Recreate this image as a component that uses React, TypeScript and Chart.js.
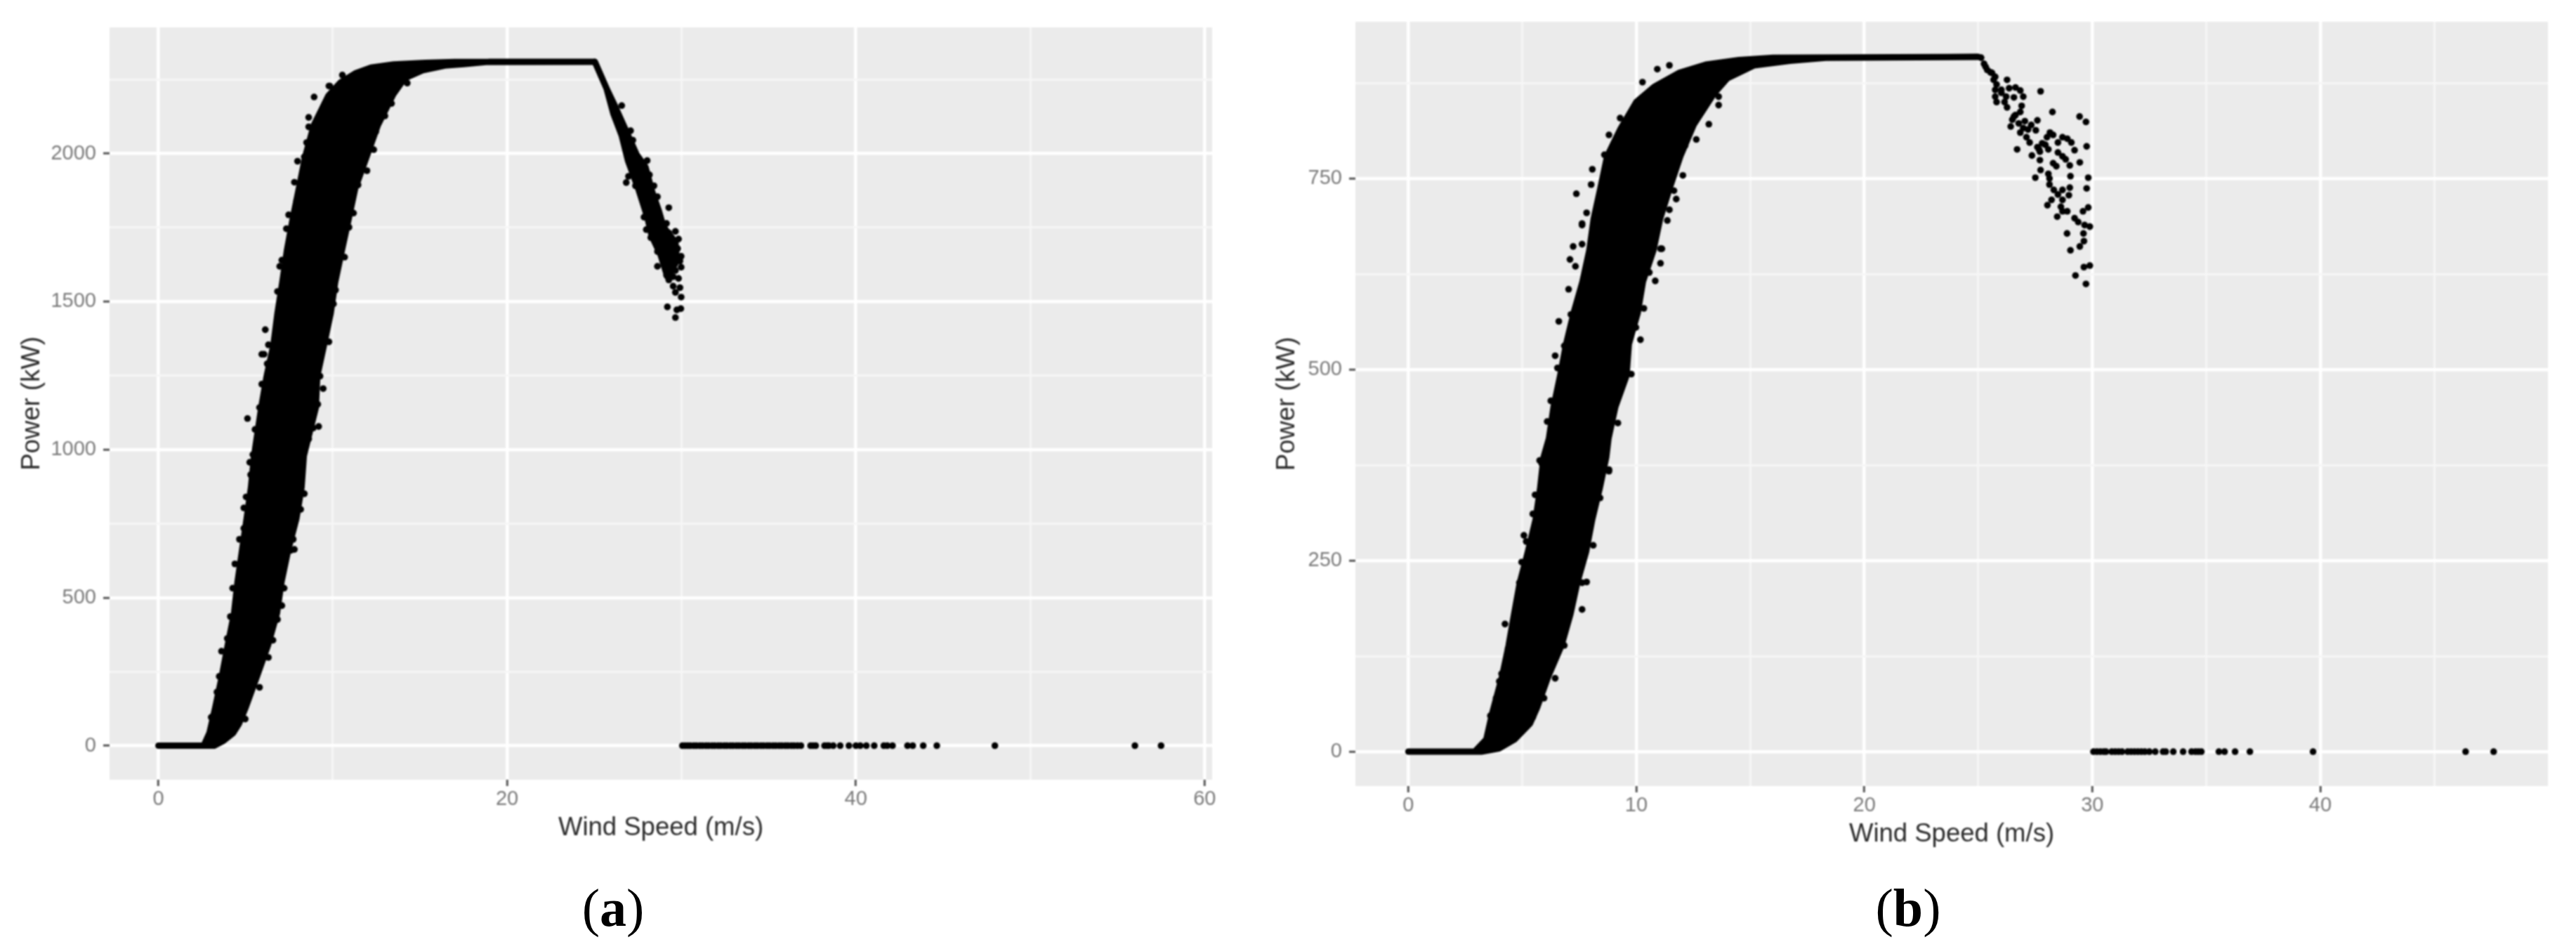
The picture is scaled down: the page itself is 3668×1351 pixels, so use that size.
import React, { useEffect, useRef } from "react";
import { Chart, registerables } from "chart.js";

Chart.register(...registerables);

type P = { x: number; y: number };
const pts = (rows: number[][]): P[] => rows.map(([x, y]) => ({ x, y }));

// ---- Panel (a) ----
const bandLeftA = [
  [0, 0], [2.6, 0], [2.93, 43], [3.26, 128], [3.64, 234], [3.98, 340], [4.34, 447], [4.54, 553], [4.8, 660],
  [5.06, 766], [5.31, 872], [5.49, 979], [5.9, 1142], [6.21, 1248], [6.6, 1354], [6.83, 1460], [7.11, 1566],
  [7.37, 1672], [7.7, 1778], [8.06, 1883], [8.42, 1989], [8.91, 2095], [9.75, 2195], [10.45, 2240], [11.34, 2272],
  [12.2, 2290], [13.5, 2301], [15.3, 2306], [17, 2309], [25.0, 2310],
];
const bandRightA = [
  [19, 2310], [17.5, 2302], [16.43, 2297], [15.14, 2281], [14.12, 2254], [13.48, 2201], [12.58, 2095], [11.94, 1989],
  [11.29, 1883], [10.91, 1778], [10.52, 1672], [10.14, 1566], [9.88, 1460], [9.5, 1354], [9.11, 1248], [9.03, 1142],
  [8.34, 979], [8.21, 872], [7.91, 766], [7.44, 660], [7.06, 553], [6.8, 447], [6.29, 340], [5.65, 234], [5.0, 128],
  [4.62, 74], [4.29, 43], [3.72, 16], [3.2, 0], [0, 0],
];
const tailA = [
  [25.03, 2310], [25.7, 2220], [26.13, 2167], [26.78, 2082], [27.42, 1997], [27.93, 1955], [28.32, 1870], [28.7, 1806],
  [28.96, 1753], [29.65, 1700], [29.73, 1637], [29.19, 1584], [28.8, 1658], [28.29, 1722], [28.04, 1785], [27.52, 1881],
  [26.93, 1976], [26.57, 2061], [26.09, 2135], [25.7, 2220], [25.03, 2310],
];
const dotsA = [
  [26.96, 1923], [28.62, 1619], [29.19, 1482], [29.65, 1446], [29.73, 1472], [29.96, 1476], [29.98, 1515], [29.65, 1531],
  [29.91, 1547], [29.83, 1578], [29.27, 1573], [29.52, 1552], [29.14, 1589], [29.98, 1616], [29.98, 1653], [29.83, 1711],
  [29.65, 1737], [29.27, 1817], [28.24, 1716], [27.98, 1743], [28.62, 1669], [28.88, 1658], [29.39, 1669], [29.52, 1637],
  [29.06, 1616], [29.65, 1605], [28.96, 1722], [29.27, 1732], [29.78, 1679], [29.91, 1637], [28.5, 1764], [29.14, 1764],
  [28.75, 1790], [28.8, 1700], [29.14, 1642], [29.52, 1584], [28.03, 1976], [28.16, 1928], [28.42, 1891], [28.62, 1854],
  [26.57, 2162], [27.08, 2077], [27.21, 2045], [26.83, 1902], [27.36, 1891], [27.85, 1785],
  [8.93, 2191], [7.98, 1974], [7.8, 1903], [6.13, 1405], [5.11, 1105], [5.24, 957], [9.45, 1206], [9.19, 1078],
  [12.35, 2013], [4.39, 614], [7.8, 663], [6.06, 1322], [7.34, 1746], [8.62, 2090], [9.78, 2228],
];
const edgeDotsA = [
  [9.83, 2228], [10.55, 2265], [9.45, 2148], [8.62, 2122], [8.88, 2064], [8.5, 2037], [8.37, 1989], [7.93, 1841], [7.47, 1793],
  [7.08, 1640], [6.96, 1619], [6.83, 1534], [6.96, 1460], [6.31, 1354], [5.93, 1322], [6.24, 1290], [5.93, 1221], [5.8, 1142],
  [5.54, 1068], [5.42, 983], [14.27, 2238], [13.37, 2169], [12.99, 2127], [12.47, 2074], [11.96, 1942], [11.45, 1894],
  [11.19, 1799], [10.93, 1751], [10.68, 1650], [10.16, 1539], [10.04, 1492], [9.78, 1364], [9.27, 1248], [9.14, 1153],
  [8.88, 1073], [8.62, 1036], [4.26, 532], [4.13, 436], [3.95, 362], [3.62, 319], [3.49, 234], [3.36, 181], [3.03, 96],
  [4.9, 803], [4.9, 734], [4.65, 697], [5.03, 840], [5.29, 915], [8.37, 851], [8.16, 798], [7.73, 697], [7.6, 660], [7.21, 532],
  [7.08, 473], [6.83, 426], [6.57, 356], [6.31, 298], [5.8, 197], [4.98, 90],
];
const zeroSpeedsA = [
  30.05, 30.2, 30.35, 30.5, 30.7, 30.85, 31.05, 31.2, 31.4, 31.55, 31.75, 31.9, 32.1, 32.25, 32.45, 32.6, 32.8, 32.95, 33.15,
  33.3, 33.5, 33.65, 33.85, 34.0, 34.2, 34.35, 34.55, 34.7, 34.9, 35.05, 35.25, 35.4, 35.6, 35.75, 35.95, 36.1, 36.3, 36.45,
  36.65, 36.85, 37.4, 37.55, 37.7, 38.2, 38.35, 38.45, 38.7, 39.1, 39.6, 40.0, 40.25, 40.6, 41.05, 41.6, 41.8, 42.1, 42.96,
  43.26, 43.86, 44.64, 47.97, 56.0, 57.5,
];
const xTicksA = [0, 10, 20, 30, 40, 50, 60];
const xLabelsA = [0, 20, 40, 60];
const yTicksA = [0, 250, 500, 750, 1000, 1250, 1500, 1750, 2000, 2250];
const yLabelsA = [0, 500, 1000, 1500, 2000];

// ---- Panel (b) ----
const bandLeftB = [
  [0, 0], [2.91, 0], [3.42, 16], [3.67, 49], [4.11, 98], [4.4, 139], [4.64, 180], [4.89, 221], [5.25, 262], [5.58, 303],
  [5.78, 344], [5.93, 385], [6.17, 410], [6.37, 451], [6.66, 492], [6.92, 533], [7.25, 574], [7.64, 615], [7.94, 656],
  [8.13, 697], [8.43, 738], [8.72, 779], [9.31, 815], [10.0, 850], [10.79, 870], [11.87, 888], [13.05, 899], [14.5, 905],
  [16, 908], [25.0, 909],
];
const bandRightB = [
  [18.4, 908], [16.74, 904], [15.17, 898], [13.99, 881], [13.4, 861], [12.51, 820], [11.93, 779], [11.47, 738], [11.04, 697],
  [10.75, 656], [10.29, 615], [10.06, 574], [9.67, 533], [9.57, 492], [9.08, 451], [8.78, 410], [8.68, 385], [8.39, 344],
  [8.06, 303], [7.8, 262], [7.41, 221], [7.11, 180], [6.72, 139], [6.13, 98], [5.64, 57], [5.34, 37], [4.66, 16], [3.97, 4],
  [3.2, 0], [0, 0],
];
const dotsB = [
  [25.12, 908], [25.25, 900], [25.39, 892], [25.6, 888], [25.74, 883], [25.53, 889], [25.32, 896], [25.67, 879], [25.8, 873],
  [26.26, 879], [27.73, 864], [25.74, 866], [26.01, 866], [26.35, 868], [26.63, 869], [26.84, 865], [26.97, 857], [26.56, 856],
  [26.22, 857], [26.01, 862], [25.74, 857], [25.8, 850], [26.15, 850], [26.26, 843], [28.25, 837], [29.44, 831], [29.72, 824],
  [26.9, 845], [26.84, 837], [26.63, 833], [26.49, 827], [26.42, 818], [26.77, 822], [27.04, 825], [27.32, 820], [27.52, 813],
  [27.59, 826], [26.97, 816], [26.84, 810], [27.11, 804], [27.25, 797], [26.7, 788], [26.56, 831], [27.18, 814], [28.14, 810],
  [28.28, 807], [28.01, 804], [27.8, 796], [27.66, 788], [27.59, 791], [27.94, 794], [28.07, 788], [27.7, 785], [27.35, 780],
  [27.7, 774], [28.69, 804], [28.9, 802], [29.08, 797], [28.49, 797], [29.22, 787], [29.75, 792], [28.49, 784], [28.69, 779],
  [28.83, 775], [29.01, 767], [29.45, 771], [28.28, 770], [28.42, 766], [27.73, 761], [28.07, 756], [28.12, 750], [27.5, 751],
  [29.04, 753], [29.82, 751], [28.12, 742], [28.31, 735], [29.75, 737], [29.01, 738], [28.69, 735], [28.49, 729], [28.97, 728],
  [28.69, 722], [28.21, 722], [28.03, 715], [28.62, 713], [28.69, 707], [28.9, 707], [28.46, 700], [29.59, 707], [29.82, 712],
  [29.22, 698], [29.38, 693], [29.66, 689], [29.89, 687], [28.89, 678], [29.61, 678], [29.63, 668], [29.45, 661], [29.04, 656],
  [29.63, 634], [29.89, 636], [29.26, 623], [29.72, 612],
  [7.37, 730], [8.07, 762], [8.02, 742], [7.09, 644], [7.23, 661], [6.6, 563], [6.44, 518], [6.54, 502], [10.83, 616],
  [13.18, 821], [13.61, 846], [10.27, 876], [10.92, 893], [11.45, 898], [4.24, 167], [5.07, 283], [7.82, 222], [3.99, 92],
  [7.62, 691], [11.06, 658], [10.18, 539],
];
const edgeDotsB = [
  [9.29, 829], [8.8, 807], [8.6, 781], [7.82, 705], [7.62, 689], [7.62, 664], [7.33, 635], [7.03, 605], [7.13, 572], [6.84, 531],
  [6.25, 459], [6.09, 432], [5.76, 381], [13.61, 857], [12.63, 801], [12.14, 793], [12.04, 754], [11.65, 734], [11.75, 723],
  [11.45, 709], [11.36, 695], [11.12, 658], [11.06, 639], [10.57, 627], [10.33, 580], [9.98, 555], [9.78, 494], [9.19, 430],
  [8.8, 369], [5.85, 377], [5.56, 336], [5.46, 311], [5.17, 275], [4.97, 248], [4.87, 221], [4.77, 193], [4.38, 135], [4.09, 102],
  [3.85, 70], [3.6, 47], [8.8, 367], [8.41, 332], [8.11, 270], [7.62, 221], [7.62, 186], [6.84, 139], [6.44, 96], [5.95, 70],
  [5.46, 45],
];
const zeroSpeedsB = [
  30.05, 30.2, 30.35, 30.5, 30.6, 30.85, 31.0, 31.15, 31.3, 31.55, 31.7, 31.85, 32.0, 32.15, 32.3, 32.5, 32.76, 33.1, 33.22,
  33.55, 33.98, 34.35, 34.52, 34.65, 34.78, 35.55, 35.8, 36.26, 36.91, 39.68, 46.37, 47.6,
];
const xTicksB = [0, 5, 10, 15, 20, 25, 30, 35, 40, 45];
const xLabelsB = [0, 10, 20, 30, 40];
const yTicksB = [0, 125, 250, 375, 500, 625, 750, 875];
const yLabelsB = [0, 250, 500, 750];

const xTitle = "Wind Speed (m/s)";
const yTitle = "Power (kW)";

const panelBg = {
  id: "panelBg",
  beforeDraw(chart: any) {
    const { ctx, chartArea: a } = chart;
    ctx.save();
    ctx.fillStyle = "#EBEBEB";
    ctx.fillRect(a.left, a.top, a.right - a.left, a.bottom - a.top);
    ctx.restore();
  },
};

type Cfg = {
  shapes: P[][];
  dots: P[];
  xTicks: number[];
  xLabels: number[];
  yTicks: number[];
  yLabels: number[];
  xRange: [number, number];
  yRange: [number, number];
  padTop: number;
  padRight: number;
  yAxisWidth: number;
  xAxisHeight: number;
  yTitlePad: number;
  xTitlePad: number;
};

function axis(
  ticks: number[],
  labels: number[],
  range: [number, number],
  title: string,
  titlePadding: any,
  tickPad: number,
  fit: (s: any) => void
) {
  const isMajor = (c: any) => labels.includes(c.tick?.value);
  return {
    type: "linear",
    min: range[0],
    max: range[1],
    border: { display: false },
    afterBuildTicks: (s: any) => {
      s.ticks = ticks.map((value) => ({ value }));
    },
    afterFit: fit,
    grid: {
      color: (c: any) => (isMajor(c) ? "#FFFFFF" : "#F6F6F6"),
      lineWidth: (c: any) => (isMajor(c) ? 4.5 : 3),
      tickColor: (c: any) => (isMajor(c) ? "#555555" : "rgba(0,0,0,0)"),
      tickWidth: 3,
      tickLength: 9,
      drawTicks: true,
    },
    ticks: {
      autoSkip: false,
      includeBounds: false,
      maxRotation: 0,
      minRotation: 0,
      padding: tickPad,
      color: "#7A7A7A",
      font: { family: "'Liberation Sans'", size: 29 },
      callback: (v: any) => (labels.includes(v) ? String(v) : ""),
    },
    title: {
      display: true,
      text: title,
      color: "#2B2B2B",
      font: { family: "'Liberation Sans'", size: 36.5 },
      padding: titlePadding,
    },
  };
}

function Panel({ cfg, style, width }: { cfg: Cfg; style: React.CSSProperties; width: number }) {
  const ref = useRef<HTMLCanvasElement | null>(null);
  useEffect(() => {
    const shapeSets = cfg.shapes.map((data) => ({
      data,
      showLine: true,
      fill: "shape",
      tension: 0,
      backgroundColor: "#000000",
      borderColor: "#000000",
      borderWidth: 9,
      borderJoinStyle: "round",
      borderCapStyle: "round",
      pointRadius: 0,
      order: 2,
    }));
    const chart = new Chart(ref.current as HTMLCanvasElement, {
      type: "scatter",
      data: {
        datasets: [
          ...shapeSets,
          {
            data: cfg.dots,
            showLine: false,
            backgroundColor: "#000000",
            borderWidth: 0,
            pointRadius: 4.8,
            order: 1,
          },
        ],
      } as any,
      options: {
        responsive: false,
        animation: false,
        devicePixelRatio: 1,
        layout: { padding: { top: cfg.padTop, right: cfg.padRight, left: 0, bottom: 0 } },
        plugins: { legend: { display: false }, tooltip: { enabled: false } },
        scales: {
          x: axis(cfg.xTicks, cfg.xLabels, cfg.xRange, xTitle, { top: 0, bottom: cfg.xTitlePad }, 2, (s: any) => {
            s.height = cfg.xAxisHeight;
          }),
          y: axis(cfg.yTicks, cfg.yLabels, cfg.yRange, yTitle, { top: cfg.yTitlePad, bottom: 0 }, 10, (s: any) => {
            s.width = cfg.yAxisWidth;
          }),
        },
      } as any,
      plugins: [panelBg],
    });
    return () => chart.destroy();
  }, [cfg]);
  return <canvas ref={ref} width={width} height={1351} style={{ position: "absolute", top: 0, filter: "blur(1px)", ...style }} />;
}

const cfgA: Cfg = {
  shapes: [pts([...bandLeftA, ...bandRightA]), pts(tailA)],
  dots: pts([...dotsA, ...edgeDotsA, ...zeroSpeedsA.map((s) => [s, 0])]),
  xTicks: xTicksA,
  xLabels: xLabelsA,
  yTicks: yTicksA,
  yLabels: yLabelsA,
  xRange: [-2.8, 60.43],
  yRange: [-115, 2426],
  padTop: 39,
  padRight: 74,
  yAxisWidth: 156,
  xAxisHeight: 241,
  yTitlePad: 24,
  xTitlePad: 150,
};

const cfgB: Cfg = {
  shapes: [pts([...bandLeftB, ...bandRightB])],
  dots: pts([...dotsB, ...edgeDotsB, ...zeroSpeedsB.map((s) => [s, 0])]),
  xTicks: xTicksB,
  xLabels: xLabelsB,
  yTicks: yTicksB,
  yLabels: yLabelsB,
  xRange: [-2.32, 49.98],
  yRange: [-45, 955],
  padTop: 31,
  padRight: 40,
  yAxisWidth: 130,
  xAxisHeight: 232,
  yTitlePad: 11,
  xTitlePad: 141,
};

const captionStyle: React.CSSProperties = {
  position: "absolute",
  top: 1252,
  width: 200,
  textAlign: "center",
  fontFamily: "'Liberation Serif'",
  fontSize: 76,
  lineHeight: "80px",
  color: "#000",
};

export default function App() {
  return (
    <div style={{ position: "absolute", left: 0, top: 0, width: 3668, height: 1351, overflow: "hidden", background: "#fff" }}>
      <Panel cfg={cfgA} width={1800} style={{ left: 0 }} />
      <Panel cfg={cfgB} width={1868} style={{ left: 1800 }} />
      <div style={{ ...captionStyle, left: 773 }}>
        (<b>a</b>)
      </div>
      <div style={{ ...captionStyle, left: 2617 }}>
        (<b>b</b>)
      </div>
    </div>
  );
}
